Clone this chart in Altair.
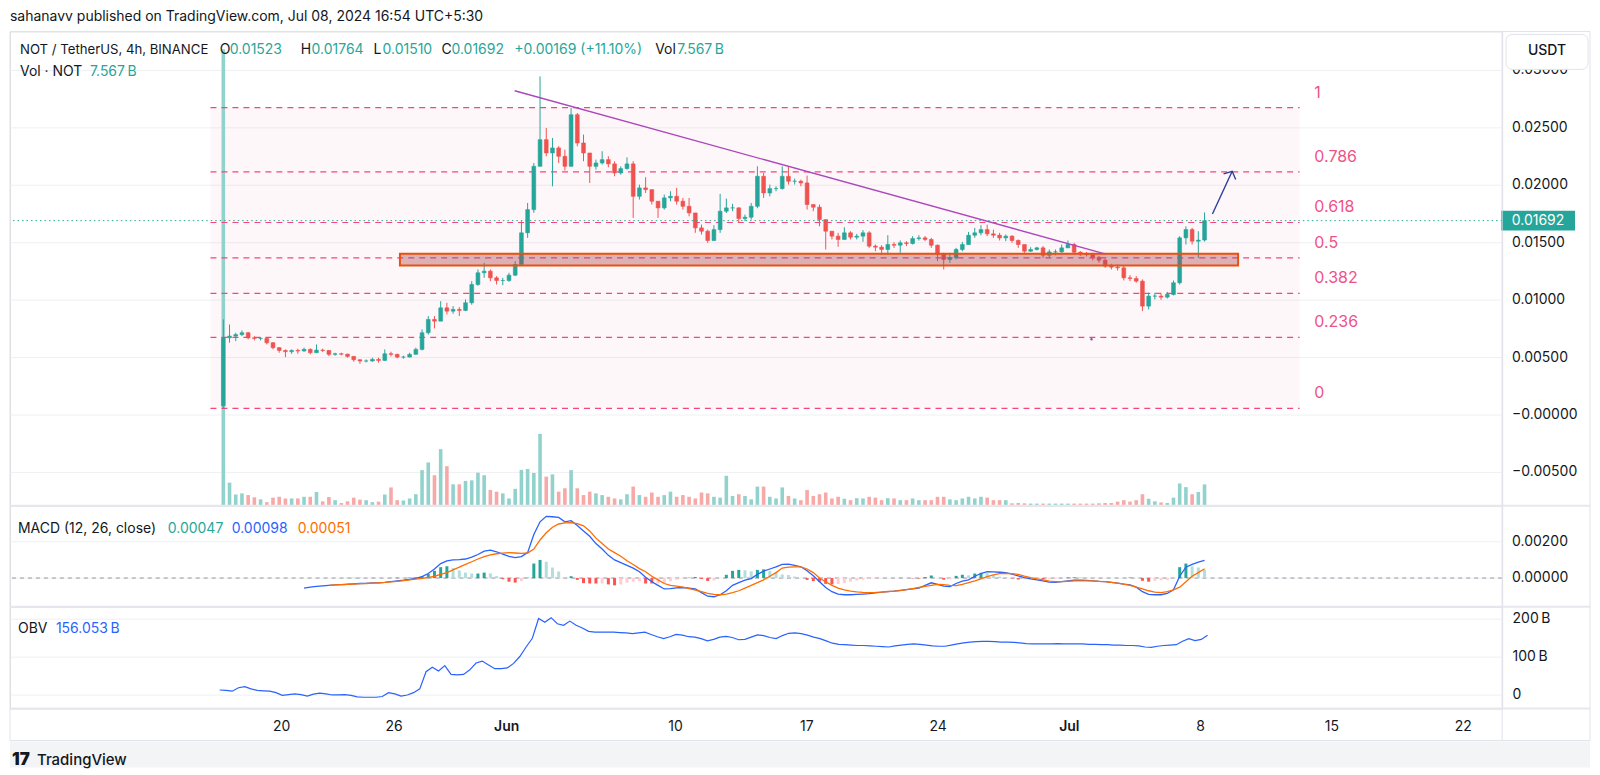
import math
import numpy as np
import pandas as pd
import altair as alt

# ----------------------------------------------------------------- data
# 8h candles of NOT/USDT (first one holds only the listing 4h candle)
FIRST_OPEN = 0.0008
CANDLE_STEP_DAYS = 8 / 24   # candle spacing, days after 2024-05-16 12:00 UTC

close = [
    .00672, .00687, .00700, .00716, .00672, .00667, .00667, .00629, .00586, .00562,
    .00551, .00562, .00557, .00571, .00542, .00565, .00562, .00528, .00533, .00530,
    .00510, .00481, .00470, .00470, .00484, .00475, .00533, .00528, .00504, .00504,
    .00528, .00571, .00716, .00832, .00817, .00933, .00904, .00919, .00910, .00977,
    .01136, .01238, .01252, .01194, .01171, .01171, .01217, .01310, .01586, .01788,
    .02165, .02397, .02281, .02325, .02252, .02165, .02614, .02368, .02281, .02165,
    .02194, .02223, .02186, .02107, .02145, .02186, .01904, .01977, .01962, .01861,
    .01803, .01890, .01904, .01861, .01817, .01759, .01629, .01600, .01519, .01614,
    .01774, .01803, .01803, .01710, .01722, .01817, .02078, .01933, .01971, .01971,
    .02078, .02035, .02035, .02020, .01832, .01809, .01701, .01600, .01557, .01528,
    .01586, .01548, .01557, .01586, .01470, .01461, .01441, .01484, .01478, .01499,
    .01493, .01536, .01542, .01528, .01478, .01397, .01354, .01368, .01441, .01484,
    .01565, .01586, .01614, .01577, .01565, .01542, .01557, .01519, .01484, .01426,
    .01441, .01455, .01391, .01420, .01420, .01455, .01484, .01417, .01403, .01397,
    .01374, .01348, .01296, .01287, .01281, .01194, .01188, .01165, .00948, .01035,
    .01035, .01026, .01049, .01151, .01542, .01614, .01513, .01523, .01692,
]
high = [
    .00832, .00788, .00716, .00736, .00722, .00687, .00678, .00672, .00635, .00591,
    .00571, .00571, .00577, .00586, .00580, .00614, .00577, .00565, .00542, .00542,
    .00533, .00510, .00484, .00484, .00499, .00499, .00571, .00551, .00533, .00516,
    .00542, .00586, .00745, .00861, .00861, .00991, .00977, .00948, .00939, .01006,
    .01165, .01267, .01325, .01267, .01209, .01194, .01238, .01339, .01687, .01846,
    .02194, .02948, .02499, .02412, .02340, .02310, .02672, .02629, .02441, .02281,
    .02223, .02296, .02252, .02209, .02165, .02243, .02209, .02006, .02070, .01962,
    .01861, .01919, .01948, .01977, .01890, .01890, .01759, .01658, .01614, .01652,
    .01925, .01884, .01838, .01809, .01745, .01846, .02165, .02107, .02006, .01991,
    .02165, .02165, .02058, .02049, .02084, .01832, .01832, .01701, .01600, .01586,
    .01635, .01600, .01577, .01609, .01600, .01484, .01478, .01565, .01504, .01519,
    .01513, .01557, .01565, .01557, .01542, .01484, .01412, .01412, .01455, .01507,
    .01594, .01629, .01652, .01658, .01614, .01586, .01571, .01565, .01528, .01484,
    .01461, .01464, .01470, .01441, .01441, .01484, .01519, .01499, .01426, .01420,
    .01412, .01383, .01360, .01316, .01310, .01296, .01217, .01209, .01180, .01064,
    .01064, .01055, .01072, .01171, .01557, .01643, .01629, .01600, .01764,
]
low = [
    .00058, .00629, .00643, .00687, .00658, .00649, .00649, .00614, .00571, .00542,
    .00504, .00533, .00533, .00551, .00528, .00542, .00548, .00513, .00516, .00519,
    .00499, .00464, .00446, .00458, .00464, .00455, .00470, .00510, .00493, .00490,
    .00504, .00528, .00562, .00700, .00754, .00817, .00875, .00881, .00861, .00904,
    .00960, .01125, .01194, .01165, .01136, .01130, .01159, .01209, .01296, .01542,
    .01760, .02165, .02252, .01991, .02194, .02128, .02165, .02339, .02209, .02020,
    .02136, .02180, .02157, .02078, .02092, .02136, .01716, .01875, .01933, .01832,
    .01716, .01788, .01861, .01832, .01788, .01730, .01586, .01571, .01499, .01519,
    .01586, .01759, .01774, .01672, .01687, .01701, .01800, .01890, .01904, .01948,
    .01962, .02006, .02006, .01991, .01788, .01774, .01643, .01441, .01528, .01464,
    .01528, .01528, .01528, .01508, .01455, .01426, .01397, .01397, .01455, .01412,
    .01470, .01484, .01519, .01513, .01455, .01339, .01267, .01325, .01354, .01426,
    .01484, .01542, .01565, .01557, .01542, .01519, .01513, .01499, .01455, .01412,
    .01420, .01432, .01368, .01368, .01391, .01412, .01455, .01397, .01385, .01380,
    .01345, .01325, .01281, .01267, .01258, .01171, .01165, .01151, .00904, .00919,
    .01006, .01003, .01014, .01041, .01136, .01484, .01484, .01368, .01510,
]
# average 4h volume inside each candle, billions of NOT
volume_b = [
    161, 8.2, 4, 4.4, 3.8, 3, 2.3, 1.3, 2.9, 3.2,
    2.6, 2.6, 2.6, 3.2, 3.2, 4.9, 1.6, 3.1, 2, 1,
    1.6, 2.9, 2.2, 2, 1.3, 1.5, 4, 6.5, 2, 1.9,
    2.6, 4.1, 12.6, 15.3, 10.8, 20, 14, 7.6, 7.6, 8.8,
    9, 11.7, 10.8, 5.6, 5, 4.4, 2.6, 6, 12.7, 13,
    11.6, 25.4, 10.3, 11.1, 5, 6.2, 12.6, 6.2, 3.8, 5,
    4.4, 3.8, 3.2, 2.6, 2.3, 4.1, 6.8, 3.8, 3.2, 4.7,
    3.2, 3.8, 5, 3.2, 3.8, 3.2, 2.6, 4.7, 4.4, 3.2,
    2.9, 10.6, 3.5, 4.1, 3.5, 2.3, 6.8, 6.8, 3.2, 2.6,
    6.5, 3.5, 2.6, 2, 5.6, 3.5, 4.1, 4.7, 2.6, 3.2,
    2.5, 2, 2.7, 2.6, 3.2, 2.9, 2, 2.7, 2.6, 2,
    2, 2.6, 2, 2, 2, 3.2, 3.2, 2.3, 2, 2.6,
    3.2, 2.6, 3.2, 2.9, 2, 2, 2, 0.9, 1, 0.9,
    0.8, 0.8, 0.8, 0.8, 0.8, 0.8, 0.8, 0.8, 0.8, 0.8,
    0.8, 0.9, 1, 1, 1.5, 2, 1.5, 2, 4.1, 2.5,
    1.6, 1.2, 1, 2.9, 7.9, 6.6, 4.1, 4.9, 7.567,
]
MACD_START = 13
macd_line = [
    -0.00055, -0.0005, -0.00046, -0.00043, -0.0004, -0.00038, -0.00036, -0.00034, -0.00032, -0.0003,
    -0.00029, -0.00027, -0.00026, -0.00024, -0.0002, -0.00016, -0.00012, -0.00007, -0.00002, 0.00008,
    0.00025, 0.0005, 0.0008, 0.00095, 0.001, 0.00102, 0.00105, 0.00115, 0.0013, 0.00148,
    0.00154, 0.00145, 0.00132, 0.0012, 0.00113, 0.00118, 0.0014, 0.0024, 0.0031, 0.0034,
    0.00338, 0.00334, 0.0031, 0.00316, 0.0029, 0.0026, 0.0023, 0.0019, 0.0016, 0.00125,
    0.001, 0.00085, 0.0007, 0.00055, 0.00035, 0.00005, -0.0002, -0.0004, -0.0006, -0.00058,
    -0.00054, -0.00052, -0.00056, -0.0006, -0.0008, -0.001, -0.00103, -0.00092, -0.0007, -0.0004,
    -0.00025, -0.00012, -0.00003, 0.0002, 0.00038, 0.0005, 0.00062, 0.00075, 0.00077, 0.0007,
    0.00062, 0.0004, 0.00013, -0.0002, -0.00052, -0.00075, -0.00088, -0.00092, -0.00092, -0.0009,
    -0.00088, -0.00086, -0.00082, -0.00078, -0.00075, -0.00072, -0.00068, -0.00064, -0.0006, -0.00055,
    -0.0004, -0.00026, -0.00035, -0.00045, -0.00047, -0.0003, -0.00017, -0.0001, 0.0001, 0.00025,
    0.00035, 0.00034, 0.00032, 0.0003, 0.00022, 0.00012, 0.00003, -0.00004, -0.0001, -0.00016,
    -0.00022, -0.00024, -0.0002, -0.00015, -0.00012, -0.00011, -0.00013, -0.00015, -0.00018, -0.0002,
    -0.00024, -0.00028, -0.00033, -0.00037, -0.0005, -0.00075, -0.0009, -0.00092, -0.00092, -0.00085,
    -0.00065, 0.0001, 0.0006, 0.00075, 0.00088, 0.00098,
]
SIGNAL_START = 17
signal_line = [
    -0.0004, -0.00038, -0.00036, -0.00035, -0.00033, -0.00031, -0.0003, -0.00028, -0.00026, -0.00024,
    -0.00021, -0.00018, -0.00014, -0.0001, -0.00006, -0.00002, 0.00003, 0.0001, 0.0002, 0.0003,
    0.00045, 0.0006, 0.00075, 0.0009, 0.00105, 0.00118, 0.00128, 0.00134, 0.00138, 0.0014,
    0.00138, 0.00136, 0.00138, 0.0016, 0.0021, 0.0025, 0.0028, 0.00298, 0.00304, 0.00306,
    0.003, 0.00288, 0.0026, 0.0022, 0.0019, 0.0016, 0.0014, 0.0012, 0.00095, 0.00075,
    0.00052, 0.00035, 0.0001, -0.0001, -0.0003, -0.0004, -0.00045, -0.0005, -0.00058, -0.00066,
    -0.00075, -0.00084, -0.0009, -0.00092, -0.00088, -0.0008, -0.0007, -0.00055, -0.0004, -0.00025,
    -0.0001, 0.0001, 0.0003, 0.00055, 0.0006, 0.00062, 0.00062, 0.0005, 0.0003, 0.0,
    -0.0002, -0.0004, -0.00055, -0.00065, -0.00072, -0.00076, -0.00079, -0.0008, -0.00079, -0.00077,
    -0.00074, -0.00072, -0.00069, -0.00064, -0.00058, -0.00052, -0.00046, -0.0004, -0.00035, -0.00036,
    -0.0004, -0.00042, -0.00035, -0.00025, -0.00015, -0.00004, 0.00008, 0.00018, 0.00024, 0.00026,
    0.00024, 0.0002, 0.0001, 0.00002, -0.00005, -0.0001, -0.00017, -0.0002, -0.0002, -0.00018,
    -0.00016, -0.00015, -0.00015, -0.00016, -0.00018, -0.0002, -0.00024, -0.00028, -0.00033, -0.0004,
    -0.0005, -0.0006, -0.0007, -0.00077, -0.0008, -0.00075, -0.00065, -0.0005, -0.0002, 0.0001,
    0.0003, 0.00051,
]
obv_b = [
    12, 11, 9, 18, 21, 15, 11, 10, 9, 5,
    -2, 0, 2, 0, -4, 1, 4, 2, -1, -1,
    0, -2, -6, -7, -7, -7, -5, 5, 2, -4,
    -1, 5, 15, 60, 72, 62, 76, 53, 52, 53,
    65, 83, 88, 78, 68, 68, 70, 82, 100, 125,
    148, 200, 190, 202, 186, 182, 193, 182, 175, 166,
    164, 164, 164, 164, 163, 162, 160, 162, 164, 158,
    152, 147, 152, 158, 156, 152, 151, 147, 141, 145,
    151, 153, 150, 144, 145, 151, 157, 155, 150, 147,
    155, 161, 162, 160, 156, 151, 147, 141, 135, 132,
    131, 130, 129, 129, 128, 127, 126, 125, 128, 130,
    132, 133, 132, 130, 128, 127, 127, 130, 133, 136,
    138, 139, 140, 140, 139, 138, 138, 137, 136, 134,
    133, 133, 133, 133, 134, 133, 133, 133, 133, 132,
    132, 131, 131, 130, 130, 129, 129, 128, 125, 124,
    127, 129, 130, 131, 140, 147, 142, 145, 156,
]

# drawings (days after 2024-05-16 12:00 UTC, prices in USDT)
fib_ratios = [1, 0.786, 0.618, 0.5, 0.382, 0.236, 0]
fib_labels = ["1", "0.786", "0.618", "0.5", "0.382", "0.236", "0"]
fib_low, fib_high = 0.00058, 0.02676
fib_days = [-0.69, 57.77]
zone_days = [9.48, 54.47]
zone_prices = [0.01301, 0.01403]
trend_days = [15.64, 47.32]
trend_prices = [0.02823, 0.01403]
arrow_days = [53.09, 54.15]
arrow_prices = [0.0175, 0.02122]
stray_day, stray_price = 46.6, 0.0066
last_price = 0.01692

tick_dates = ["2024-05-20", "2024-05-26", "2024-06-01", "2024-06-10", "2024-06-17",
              "2024-06-24", "2024-07-01", "2024-07-08", "2024-07-15", "2024-07-22"]
tick_labels = ["20", "26", "Jun", "10", "17", "24", "Jul", "8", "15", "22"]
price_ticks = [-0.005, 0.0, 0.005, 0.01, 0.015, 0.02, 0.025, 0.03]
macd_ticks = [0.0, 0.002]
obv_ticks = [0, 100, 200]

# ----------------------------------------------------------------- style
FONT = "Inter"
INK = "#131722"
TEAL, RED = "#26a69a", "#ef5350"
BLUE, ORANGE = "#2962ff", "#ff6d00"
FIB_LINE, FIB_TEXT = "#f5457a", "#ef5287"
BORDER = "#e0e3eb"
GRID = "#eef0f4"
W = 1494
H_MAIN, H_MACD, H_OBV = 475, 101, 102
X_DOMAIN = [-11.182, 68.371]
PRICE_DOMAIN = [-0.00791, 0.03339]
VOL_MAX = 167.3          # volume (B) that would fill the whole main pane
MACD_DOMAIN = [-0.00158, 0.00398]
OBV_DOMAIN = [-36.8, 230.8]

xs = alt.Scale(domain=X_DOMAIN, nice=False, zero=False)
ys = alt.Scale(domain=PRICE_DOMAIN, nice=False, zero=False)
my = alt.Scale(domain=MACD_DOMAIN, nice=False, zero=False)


def X(field):
    return alt.X(f"{field}:Q", scale=xs, axis=None)


def Yp(field):
    return alt.Y(f"{field}:Q", scale=ys, axis=None)


def one():
    return pd.DataFrame({"k": [0]})


def txt(s, x, y, color=INK, size=14, weight=400, align="left"):
    return alt.Chart(pd.DataFrame({"t": [s]})).mark_text(
        align=align, baseline="middle", font=FONT, fontSize=size,
        fontWeight=weight, color=color,
    ).encode(x=alt.value(x), y=alt.value(y), text="t:N")


def line_px(x1, x2, y1, y2, color=BORDER, w=1.0):
    return alt.Chart(one()).mark_rule(color=color, strokeWidth=w).encode(
        x=alt.value(x1), x2=alt.value(x2), y=alt.value(y1), y2=alt.value(y2))


def scale_labels(ticks, texts, yscale):
    """grid lines + right-hand scale labels, drawn as marks"""
    df = pd.DataFrame({"v": ticks, "t": texts})
    y = alt.Y("v:Q", scale=yscale, axis=None)
    g = alt.Chart(df).mark_rule(color=GRID, strokeWidth=1).encode(y=y)
    t = alt.Chart(df).mark_text(align="left", baseline="middle", font=FONT, fontSize=14,
                                color=INK).encode(x=alt.value(W + 10), y=y, text="t:N")
    return g, t


# ----------------------------------------------------------------- frames
n = min(len(close), len(high), len(low), len(volume_b))
cd = pd.DataFrame({
    "day": [i * CANDLE_STEP_DAYS for i in range(n)],
    "open": [FIRST_OPEN] + close[:n - 1],
    "close": close[:n], "high": high[:n], "low": low[:n], "vol": volume_b[:n],
})
cd["high"] = cd[["high", "open", "close"]].max(axis=1)
cd["low"] = cd[["low", "open", "close"]].min(axis=1)
up = cd["close"] >= cd["open"]
cd["col"] = np.where(up, TEAL, RED)
cd["vcol"] = np.where(up, "#92d2cc", "#f7a9a7")

fib = pd.DataFrame({"ratio": fib_ratios, "label": fib_labels})
fib["price"] = fib_low + fib["ratio"] * (fib_high - fib_low)
fib["d0"], fib["d1"] = fib_days[0], fib_days[1]
fib_band = pd.DataFrame({"d0": [fib_days[0]], "d1": [fib_days[1]],
                         "p0": [fib_low], "p1": [fib_high]})
zone = pd.DataFrame({"d0": [zone_days[0]], "d1": [zone_days[1]],
                     "p0": [zone_prices[0]], "p1": [zone_prices[1]]})
trend = pd.DataFrame({"day": trend_days, "price": trend_prices})
arrow = pd.DataFrame({"day": arrow_days, "price": arrow_prices})
tip = pd.DataFrame({"day": [arrow_days[1]], "price": [arrow_prices[1]]})
stray = pd.DataFrame({"day": [stray_day], "price": [stray_price]})
lastp = pd.DataFrame({"price": [last_price], "t": [f"{last_price:.5f}"]})

px_day = W / (X_DOMAIN[1] - X_DOMAIN[0])
px_price = H_MAIN / (PRICE_DOMAIN[1] - PRICE_DOMAIN[0])
arrow_angle = math.degrees(math.atan2((arrow_days[1] - arrow_days[0]) * px_day,
                                      (arrow_prices[1] - arrow_prices[0]) * px_price))

macd_df = pd.DataFrame({"day": [(MACD_START + i) * CANDLE_STEP_DAYS for i in range(len(macd_line))],
                        "v": macd_line})
sig_df = pd.DataFrame({"day": [(SIGNAL_START + i) * CANDLE_STEP_DAYS for i in range(len(signal_line))],
                       "v": signal_line})
hist = sig_df.merge(macd_df, on="day", suffixes=("_s", "_m"))
hist["h"] = hist["v_m"] - hist["v_s"]
prev = hist["h"].shift(1).fillna(hist["h"])
hist["col"] = np.select(
    [(hist["h"] >= 0) & (hist["h"] >= prev), (hist["h"] >= 0),
     (hist["h"] < prev)],
    ["#26a69a", "#b2dfdb", "#ff5252"], "#ffcdd2")
obv_df = pd.DataFrame({"day": [i * CANDLE_STEP_DAYS for i in range(len(obv_b))], "v": obv_b})

base_t = pd.Timestamp("2024-05-16 12:00", tz="UTC")
tick_vals = [round((pd.Timestamp(s, tz="Asia/Kolkata") - base_t) / pd.Timedelta(days=1), 4)
             for s in tick_dates]
month_vals = [v for v, l in zip(tick_vals, tick_labels) if not l.isdigit()]
arr_vals = "[" + ",".join(repr(v) for v in tick_vals) + "]"
arr_labs = "[" + ",".join(f"'{l}'" for l in tick_labels) + "]"

# ----------------------------------------------------------------- main pane
price_grid, price_scale_text = scale_labels(
    price_ticks, [("\u2212" if v <= 0 else "") + f"{abs(v):.5f}" for v in price_ticks], ys)

vol_k = (PRICE_DOMAIN[1] - PRICE_DOMAIN[0]) / VOL_MAX
volume = alt.Chart(cd).transform_calculate(
    vp=f"{PRICE_DOMAIN[0]} + datum.vol * {vol_k}"
).mark_bar(size=3.6).encode(
    x=X("day"), y=Yp("vp"), y2=alt.datum(PRICE_DOMAIN[0]),
    color=alt.Color("vcol:N", scale=None),
)

band = alt.Chart(fib_band).mark_rect(color="#f23d6d", opacity=0.04).encode(
    x=X("d0"), x2="d1", y=Yp("p0"), y2="p1")
fib_rules = alt.Chart(fib).mark_rule(color=FIB_LINE, strokeWidth=1.2, strokeDash=[6, 5]).encode(
    x=X("d0"), x2="d1", y=Yp("price"))
fib_text = alt.Chart(fib).mark_text(
    align="left", baseline="middle", dy=-15, font=FONT, fontSize=16, color=FIB_TEXT
).encode(x=alt.value(1306), y=Yp("price"), text="label:N")

wicks = alt.Chart(cd).mark_rule(strokeWidth=1).encode(
    x=X("day"), y=Yp("low"), y2="high", color=alt.Color("col:N", scale=None))
bodies = alt.Chart(cd).mark_bar(size=3.8, strokeWidth=0.6).encode(
    x=X("day"), y=Yp("open"), y2="close",
    color=alt.Color("col:N", scale=None), stroke=alt.Stroke("col:N", scale=None))

zone_rect = alt.Chart(zone).mark_rect(
    fill="#a84955", fillOpacity=0.4, stroke="#e8520e", strokeWidth=2
).encode(x=X("d0"), x2="d1", y=Yp("p0"), y2="p1")

price_line = alt.Chart(lastp).mark_rule(color=TEAL, strokeWidth=1, strokeDash=[1.5, 3]).encode(
    y=Yp("price"))
trend_line = alt.Chart(trend).mark_line(color="#ab47bc", strokeWidth=1.4).encode(
    x=X("day"), y=Yp("price"))
arrow_line = alt.Chart(arrow).mark_line(color="#2c3e9e", strokeWidth=1.4).encode(
    x=X("day"), y=Yp("price"))
arrow_head = alt.Chart(tip).mark_point(
    shape="M-1,0.9L0,0L1,0.9", filled=False, size=180, strokeWidth=1.4,
    color="#2c3e9e", angle=arrow_angle, opacity=1,
).encode(x=X("day"), y=Yp("price"))
stray_dot = alt.Chart(stray).mark_point(filled=True, size=6, color="#7e57c2", opacity=1).encode(
    x=X("day"), y=Yp("price"))

price_tag = alt.Chart(lastp).mark_point(
    shape="M-1,-0.27L1,-0.27L1,0.27L-1,0.27Z", filled=True, size=74 * 74,
    fill=TEAL, opacity=1, strokeWidth=0,
).encode(x=alt.value(1530), y=Yp("price"))
price_tag_text = alt.Chart(lastp).mark_text(
    align="center", baseline="middle", font=FONT, fontSize=14, color="white"
).encode(x=alt.value(1530), y=Yp("price"), text="t:N")

usdt_box = alt.Chart(one()).mark_rect(
    fill="white", stroke=BORDER, strokeWidth=1, cornerRadius=6
).encode(x=alt.value(1498), x2=alt.value(1580), y=alt.value(3), y2=alt.value(38))
bounds_box = alt.Chart(one()).mark_rect(fillOpacity=0, strokeOpacity=0).encode(
    x=alt.value(0), x2=alt.value(1500), y=alt.value(-22), y2=alt.value(0))

header = [
    txt("sahanavv published on TradingView.com, Jul 08, 2024 16:54 UTC+5:30", 0, -14.5),
    txt("NOT / TetherUS, 4h, BINANCE", 10, 19, INK, 13.2),
    txt("O", 210, 19), txt("0.01523", 220, 19, TEAL),
    txt("H", 291, 19), txt("0.01764", 302, 19, TEAL),
    txt("L", 364, 19), txt("0.01510", 373, 19, TEAL),
    txt("C", 432, 19), txt("0.01692", 442, 19, TEAL),
    txt("+0.00169 (+11.10%)", 505, 19, TEAL),
    txt("Vol", 646, 19), txt("7.567\u2009B", 668, 19, TEAL),
    txt("Vol \u00b7 NOT", 10, 41), txt("7.567\u2009B", 80, 41, TEAL),
    txt("USDT", 1539, 20, INK, 14, 500, "center"),
]

main = alt.layer(
    price_grid, band, volume, fib_rules, wicks, bodies, zone_rect, price_line, trend_line,
    arrow_line, arrow_head, stray_dot, fib_text, price_scale_text, usdt_box, price_tag,
    price_tag_text, bounds_box, *header,
).properties(width=W, height=H_MAIN)

# ----------------------------------------------------------------- MACD pane
macd_grid, macd_scale_text = scale_labels(macd_ticks, [f"{v:.5f}" for v in macd_ticks], my)
zero_line = alt.Chart(pd.DataFrame({"z": [0.0]})).mark_rule(
    color="#9598a1", strokeWidth=1, strokeDash=[4, 4]).encode(
    y=alt.Y("z:Q", scale=my, axis=None))
hist_bars = alt.Chart(hist).mark_bar(size=3).encode(
    x=X("day"), y=alt.Y("h:Q", scale=my, axis=None), y2=alt.datum(0),
    color=alt.Color("col:N", scale=None))
macd_l = alt.Chart(macd_df).mark_line(color=BLUE, strokeWidth=1.3).encode(
    x=X("day"), y=alt.Y("v:Q", scale=my, axis=None))
sig_l = alt.Chart(sig_df).mark_line(color=ORANGE, strokeWidth=1.3).encode(
    x=X("day"), y=alt.Y("v:Q", scale=my, axis=None))
macd_pane = alt.layer(
    macd_grid, zero_line, hist_bars, macd_l, sig_l, macd_scale_text,
    txt("MACD (12, 26, close)", 8, 23),
    txt("0.00047", 158, 23, TEAL), txt("0.00098", 222, 23, BLUE),
    txt("0.00051", 288, 23, ORANGE),
).properties(width=W, height=H_MACD)

# ----------------------------------------------------------------- OBV pane
oy = alt.Scale(domain=OBV_DOMAIN, nice=False, zero=False)
obv_axis = alt.Axis(orient="right", values=obv_ticks, grid=True, gridColor=GRID,
                    domain=False, ticks=False, labelPadding=10, title=None, labelFont=FONT,
                    labelFontSize=14, labelColor=INK,
                    labelExpr="datum.value == 0 ? '0' : datum.value + '\u2009B'")
x_axis = alt.Axis(
    orient="bottom", values=tick_vals, labelExpr=f"{arr_labs}[indexof({arr_vals}, datum.value)]",
    labelFontWeight={"condition": {"test": "indexof(" + "[" + ",".join(repr(v) for v in month_vals)
                                   + "], datum.value) >= 0", "value": 600}, "value": 400},
    grid=False, domain=False, ticks=False, labelPadding=11, title=None, labelFont=FONT,
    labelFontSize=14, labelColor=INK,
)
obv_l = alt.Chart(obv_df).mark_line(color=BLUE, strokeWidth=1.2).encode(
    x=alt.X("day:Q", scale=xs, axis=x_axis), y=alt.Y("v:Q", scale=oy, axis=obv_axis))
RX = 1582
frame = [
    line_px(0, RX, -576, -576), line_px(0, RX, -101, -101, "#e6e8ee", 2),
    line_px(0, RX, 0, 0, "#e6e8ee", 2), line_px(0, RX, 102, 102, "#e6e8ee", 2),
    line_px(0, RX, 134, 134),
    line_px(0, 0, -576, 134), line_px(W, W, -576, 134), line_px(RX, RX, -576, 134),
]
gray_band = alt.Chart(one()).mark_rect(color="#f3f4f6").encode(
    x=alt.value(0), x2=alt.value(RX), y=alt.value(135), y2=alt.value(161))
obv_pane = alt.layer(
    obv_l, gray_band, *frame,
    txt("OBV", 8, 22), txt("156.053\u2009B", 46, 22, BLUE),
    txt("17", 2, 153, INK, 17, 900), txt("TradingView", 27, 153, INK, 15, 500),
).properties(width=W, height=H_OBV)

chart = alt.vconcat(main, macd_pane, obv_pane, spacing=0, bounds="flush").properties(
    padding={"left": 0, "top": 0, "right": 0, "bottom": 0},
    autosize=alt.AutoSizeParams(type="pad"),
    background="white",
).configure_view(strokeWidth=0).configure(font=FONT)

chart.save("out.html", embed_options={"renderer": "svg", "actions": False})
